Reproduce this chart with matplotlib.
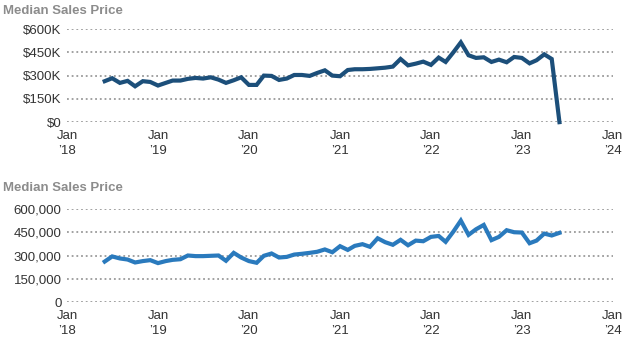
import numpy as np
import pandas as pd
import matplotlib.pyplot as plt
from matplotlib.ticker import FuncFormatter

plt.rcParams['font.family'] = ['Liberation Sans', 'DejaVu Sans']

# monthly data, Jun 2018 .. Jun 2023
months = pd.date_range("2018-06-01", "2023-06-01", freq="MS")

price_top = [
    264, 283, 253, 266, 231, 264, 259,            # 2018 Jun-Dec
    236, 253, 268, 268, 279, 285, 281, 289, 274, 253, 270, 289,  # 2019
    240, 240, 300, 298, 272, 281, 304, 304, 298, 317, 334, 300,  # 2020
    296, 336, 341, 341, 343, 347, 351, 358, 407, 366, 377, 390,  # 2021
    369, 416, 388, 450, 514, 431, 414, 418, 388, 403, 386, 420,  # 2022
    414, 379, 399, 437, 407, 0,                   # 2023 Jan-Jun
]

price_bottom = [
    261, 294, 281, 274, 255, 264, 270,
    251, 264, 272, 276, 300, 296, 296, 298, 300, 266, 317, 287,
    264, 253, 298, 313, 287, 291, 306, 311, 317, 324, 339, 321,
    360, 336, 362, 373, 356, 411, 386, 369, 401, 366, 396, 392,
    420, 426, 388, 454, 525, 433, 469, 497, 399, 420, 463, 450,
    448, 379, 396, 441, 429, 446,
]

yticks = [0, 150000, 300000, 450000, 600000]
xtick_years = [2018, 2019, 2020, 2021, 2022, 2023, 2024]

title_color = "#8c8c8c"
tick_color = "#333333"
grid_color = "#9a9a9a"


def style_axis(ax, fmt):
    ax.set_xlim(pd.Timestamp("2018-01-01"), pd.Timestamp("2024-01-01"))
    ax.set_ylim(0, 600000)
    ax.set_yticks(yticks)
    ax.yaxis.set_major_formatter(FuncFormatter(fmt))
    ticks = [pd.Timestamp(f"{y}-01-01") for y in xtick_years]
    ax.set_xticks(ticks)
    ax.set_xticklabels([f"Jan\n\u2019{str(y)[2:]}" for y in xtick_years],
                       linespacing=1.25)
    ax.tick_params(length=0, labelsize=9.5, colors=tick_color)
    ax.tick_params(axis="y", pad=4)
    ax.tick_params(axis="x", pad=6)
    for sp in ax.spines.values():
        sp.set_visible(False)
    ax.grid(axis="y", color=grid_color, linestyle=(0, (1, 1.6)), linewidth=1.3)
    ax.grid(axis="x", visible=False)
    ax.set_axisbelow(True)


fig = plt.figure(figsize=(6.33, 3.5), dpi=100)

ax1 = fig.add_axes([0.106, 0.651, 0.862, 0.266])
ax1.plot(months, np.array(price_top) * 1000, color="#1c4f7a", linewidth=3,
         clip_on=False, solid_joinstyle="miter")
style_axis(ax1, lambda v, p: "$0" if v == 0 else f"${int(v/1000)}K")

ax2 = fig.add_axes([0.106, 0.137, 0.862, 0.266])
ax2.plot(months, np.array(price_bottom) * 1000, color="#2a7abd", linewidth=3,
         clip_on=False, solid_joinstyle="miter")
style_axis(ax2, lambda v, p: f"{int(v):,}")

fig.text(0.005, 0.969, "Median Sales Price", color=title_color, fontsize=9.5,
         fontweight="bold", va="center", ha="left")
fig.text(0.005, 0.463, "Median Sales Price", color=title_color, fontsize=9.5,
         fontweight="bold", va="center", ha="left")

fig.savefig("out.png", dpi=100)
